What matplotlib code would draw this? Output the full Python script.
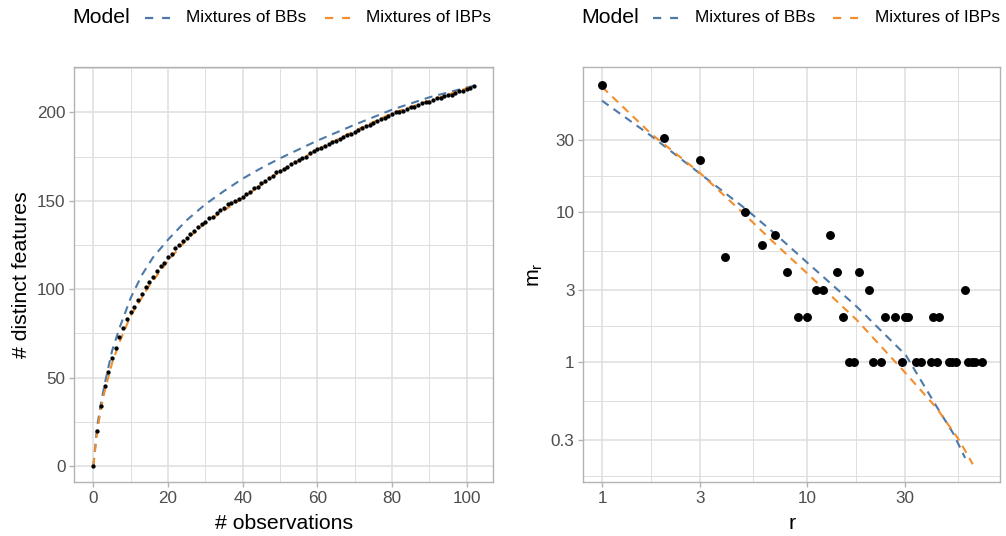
import matplotlib
matplotlib.use("Agg")
import matplotlib.pyplot as plt
from matplotlib.lines import Line2D
import numpy as np

plt.rcParams['font.family'] = ['Liberation Sans', 'DejaVu Sans']

# ---- accumulation curve: distinct features after n observations ----
n_obs = list(range(103))
distinct = [0, 20, 34, 45, 53, 61, 67, 73, 78, 83,
            87, 90, 94, 97, 101, 104, 107, 110, 113, 115,
            118, 120, 123, 125, 127, 129, 131, 133, 135, 137,
            138, 140, 141, 143, 145, 146, 148, 149, 150, 151,
            152, 154, 155, 157, 158, 160, 161, 163, 164, 166,
            167, 168, 169, 171, 172, 173, 174, 175, 177, 178,
            179, 180, 181, 182, 183, 184, 185, 186, 187, 188,
            189, 190, 191, 192, 193, 194, 195, 196, 197, 198,
            199, 200, 200, 201, 202, 203, 203, 204, 205, 206,
            206, 207, 208, 208, 209, 210, 210, 211, 212, 212,
            213, 214, 215]

bb_n = [0, 1, 2, 3, 5, 7, 10, 13, 16, 20, 25, 30, 35, 40, 45, 50,
        60, 70, 80, 90, 100, 102]
bb_curve = [0, 22, 35, 46, 65, 78, 95, 108, 118, 128, 139, 148, 155.5,
            162.5, 168.5, 174, 184, 193, 201.5, 208.5, 214, 215]

ibp_n = [0, 1, 2, 3, 5, 7, 10, 15, 20, 25, 30, 40, 50, 60, 70, 80,
         90, 102]
ibp_curve = [0, 19, 32, 42, 58, 70, 85, 102, 116, 128, 137.5, 151.5,
             166.5, 179, 189.5, 199.5, 206.5, 215]

# ---- frequency counts: m_r features seen exactly r times ----
r_vals = [1, 2, 3, 4, 5, 6, 7, 8, 9, 10, 11, 12, 13, 14, 15, 16, 17, 18,
          20, 21, 23, 24, 27, 29, 30, 31, 34, 36, 40, 41, 43, 44, 49, 51,
          53, 59, 61, 64, 66, 71]
m_r = [70, 31, 22, 5, 10, 6, 7, 4, 2, 2, 3, 3, 7, 4, 2, 1, 1, 4,
       3, 1, 1, 2, 2, 1, 2, 2, 1, 1, 1, 2, 1, 2, 1, 1,
       1, 3, 1, 1, 1, 1]

bb_r = [1, 1.74, 3, 5, 7.1, 10, 17.5, 30.3, 43, 51.7, 59]
bb_m = [55, 32, 18, 10.5, 7.0, 4.6, 2.33, 1.11, 0.50, 0.333, 0.229]

ibp_r = [1, 1.74, 3, 5, 7.1, 10, 17.5, 30.3, 43, 55.3, 64.3]
ibp_m = [68, 33, 18.2, 9.5, 6.0, 3.9, 1.9, 0.84, 0.49, 0.30, 0.208]

models = ["Mixtures of BBs", "Mixtures of IBPs"]
colors = ["#4E79A7", "#F28E2B"]

W, H = 1006, 536
fig = plt.figure(figsize=(W / 100, H / 100), dpi=100)

GRID = "#DEDEDE"
BORDER = "#B3B3B3"
TICKLAB = "#4D4D4D"
TICK_FS = 12.3
TITLE_FS = 15.3
dash = (0, (3.9, 2.9))


def px_axes(x0, x1, ytop, ybot):
    return fig.add_axes([x0 / W, (H - ybot) / H, (x1 - x0) / W, (ybot - ytop) / H])


def style(ax):
    for s in ax.spines.values():
        s.set_color(BORDER)
        s.set_linewidth(1.0)
    ax.tick_params(which="major", length=3.8, width=1.0, color=BORDER,
                   labelcolor=TICKLAB, labelsize=TICK_FS, pad=2.5)
    ax.tick_params(which="minor", length=0)
    ax.grid(which="major", color=GRID, linewidth=1.1)
    ax.grid(which="minor", color=GRID, linewidth=0.7)
    ax.set_axisbelow(True)


# left panel
ax1 = px_axes(74.3, 493.2, 66.7, 482)
style(ax1)
ax1.plot(bb_n, bb_curve, color=colors[0], lw=1.5, linestyle=dash, zorder=2)
ax1.plot(ibp_n, ibp_curve, color=colors[1], lw=1.5, linestyle=dash, zorder=3)
ax1.plot(n_obs, distinct, linestyle="none", marker="o", markersize=2.1,
         color="black", zorder=4)
ax1.set_xlim(-5.1, 107.1)
ax1.set_ylim(-9.05, 225.8)
ax1.set_xticks([0, 20, 40, 60, 80, 100])
ax1.set_xticks([10, 30, 50, 70, 90], minor=True)
ax1.set_yticks([0, 50, 100, 150, 200])
ax1.set_yticks([25, 75, 125, 175, 225], minor=True)
ax1.set_xlabel("# observations", fontsize=TITLE_FS, labelpad=6)
ax1.set_ylabel("# distinct features", fontsize=TITLE_FS, labelpad=4)

# right panel
ax2 = px_axes(583.3, 1000, 66.7, 482)
style(ax2)
ax2.set_xscale("log")
ax2.set_yscale("log")
ax2.plot(bb_r, bb_m, color=colors[0], lw=1.5, linestyle=dash, zorder=2)
ax2.plot(ibp_r, ibp_m, color=colors[1], lw=1.5, linestyle=dash, zorder=3)
ax2.plot(r_vals, m_r, linestyle="none", marker="o", markersize=5.4,
         color="black", zorder=4)
ax2.set_xlim(10 ** -0.0912, 10 ** 1.941)
ax2.set_ylim(10 ** -0.8, 10 ** 1.967)
ax2.set_xticks([1, 3, 10, 30])
ax2.set_xticklabels(["1", "3", "10", "30"])
ax2.set_xticks([np.sqrt(3), np.sqrt(30), np.sqrt(300), np.sqrt(3000)], minor=True)
ax2.set_yticks([0.3, 1, 3, 10, 30])
ax2.set_yticklabels(["0.3", "1", "3", "10", "30"])
ax2.set_yticks([np.sqrt(0.03), np.sqrt(0.3), np.sqrt(3), np.sqrt(30),
                np.sqrt(300), np.sqrt(3000)], minor=True)
ax2.xaxis.set_minor_formatter(matplotlib.ticker.NullFormatter())
ax2.yaxis.set_minor_formatter(matplotlib.ticker.NullFormatter())
ax2.set_xlabel("r", fontsize=TITLE_FS, labelpad=6)
ax2.set_ylabel(r"m$_\mathregular{r}$", fontsize=TITLE_FS, labelpad=4)

# legends along the top
ov = fig.add_axes([0, 0, 1, 1], facecolor="none")
ov.set_xlim(0, W)
ov.set_ylim(H, 0)
ov.axis("off")


def legend_row(x_title, x_keys, x_labels, yc=17.5):
    ov.text(x_title, yc, "Model", fontsize=TITLE_FS, ha="left", va="center")
    for xk, xl, name, col in zip(x_keys, x_labels, models, colors):
        ov.add_line(Line2D([xk, xk + 25], [yc, yc], color=col, lw=1.6,
                           linestyle=(0, (3.7, 4.0))))
        ov.text(xl, yc, name, fontsize=TICK_FS, ha="left", va="center")


legend_row(72, [145, 325], [186, 366])
legend_row(581, [653, 833], [695, 875])

fig.savefig("out.png", dpi=100)
